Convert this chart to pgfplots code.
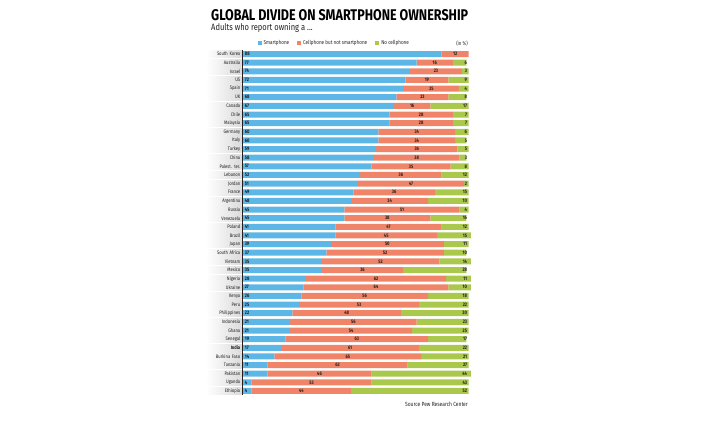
\documentclass[border=0pt]{standalone}
\usepackage{pgfplots}
\pgfplotsset{compat=1.18}
\usepackage{pgfplotstable}
\usepackage{fontspec}
\setmainfont{Fira Sans}
\newfontfamily\cond{Fira Sans}[FakeStretch=0.82]

\definecolor{cblue}{HTML}{5DB7E6}
\definecolor{cred}{HTML}{F08468}
\definecolor{cgreen}{HTML}{A9C84C}
\definecolor{ctext}{HTML}{231F20}

% s = smartphone, c = cellphone but not smartphone, n = no cellphone (as printed),
% nd = green bar length as drawn in the original
\pgfplotstableread[col sep=comma]{
idx,s,c,n,nd
0,88,12,,0
1,77,16,6,6
2,74,23,3,3
3,72,19,9,9
4,71,25,4,4
5,68,23,8,8
6,67,16,17,17
7,65,28,7,7
8,65,28,7,7
9,60,34,6,6
10,60,34,5,5
11,59,36,5,5
12,58,38,3,3
13,57,35,8,8
14,52,36,12,12
15,51,47,2,2
16,49,36,15,15
17,48,34,10,18
18,45,51,4,4
19,45,38,16,16
20,41,47,12,12
21,41,45,15,15
22,39,50,11,11
23,37,52,10,10
24,35,52,14,14
25,35,36,28,28
26,28,62,11,11
27,27,64,10,10
28,26,56,18,18
29,25,53,22,22
30,22,48,30,30
31,21,56,23,23
32,21,54,25,25
33,19,63,17,17
34,17,61,22,22
35,14,65,21,21
36,11,62,27,27
37,11,46,44,44
38,4,53,43,43
39,4,44,52,52
}\data

\begin{document}
\begin{tikzpicture}[x=1pt,y=1pt]
\useasboundingbox (0pt,0pt) rectangle (707pt,423pt);

\node[anchor=south west, inner sep=0pt] at (211pt,402pt)
  {\resizebox{257pt}{11pt}{\cond\bfseries GLOBAL DIVIDE ON SMARTPHONE OWNERSHIP}};
\node[anchor=base west, inner sep=0pt, text=ctext] at (211pt,392.3pt)
  {\cond\fontsize{9.2}{10}\selectfont Adults who report owning a ...};
\node[anchor=base east, inner sep=0pt, text=ctext] at (468pt,377pt)
  {\cond\fontsize{5.4}{6}\selectfont (in \%)};
\node[anchor=base east, inner sep=0pt, text=ctext] at (468pt,16pt)
  {\cond\fontsize{6}{7}\selectfont Source Pew Research Center};

\begin{axis}[
    at={(242.7pt,373.3pt)}, anchor=north west,
    scale only axis, width=226pt, height=345.6pt,
    xmin=0, xmax=100, ymin=-0.5, ymax=39.5,
    y dir=reverse,
    xbar stacked, bar width=6pt,
    axis x line=none, axis y line*=left, axis on top,
    axis line style={-, ctext, line width=0.7pt},
    ytick={0,...,39},
    yticklabels={South Korea, Australia, Israel, US, Spain, UK, Canada, Chile,
      Malaysia, Germany, Italy, Turkey, China, Palest. ter., Lebanon, Jordan,
      France, Argentina, Russia, Venezuela, Poland, Brazil, Japan, South Africa,
      Vietnam, Mexico, Nigeria, Ukraine, Kenya, Peru, Philippines, Indonesia,
      Ghana, Senegal, \textbf{India}, Burkina Faso, Tanzania, Pakistan, Uganda,
      Ethiopia},
    major tick length=0pt,
    yticklabel style={font=\cond\fontsize{5}{5}\selectfont, text=ctext,
      text width=33pt, align=right, inner xsep=1.5pt, inner ysep=0pt,
      minimum height=7.2pt, left color=white, right color=black!14,
      anchor=east, xshift=-0.8pt},
    legend style={at={(0.405,1)}, anchor=south, yshift=1.2pt, draw=none,
      fill=none, inner sep=0pt, font=\cond\fontsize{5.6}{6}\selectfont,
      text=ctext, /tikz/every even column/.append style={column sep=6pt}},
    legend columns=-1,
    clip=false,
]
\addplot[fill=cblue, draw=none,
  legend image code/.code={\fill[cblue] (0pt,-2pt) rectangle (4pt,2pt);}]
  table[x=s, y=idx] {\data};
\addlegendentry{Smartphone}
\addplot[fill=cred, draw=none,
  legend image code/.code={\fill[cred] (0pt,-2pt) rectangle (4pt,2pt);}]
  table[x=c, y=idx] {\data};
\addlegendentry{Cellphone but not smartphone}
\addplot[fill=cgreen, draw=none,
  legend image code/.code={\fill[cgreen] (0pt,-2pt) rectangle (4pt,2pt);}]
  table[x=nd, y=idx] {\data};
\addlegendentry{No cellphone}
\end{axis}

% value labels
\begin{axis}[
    at={(242.7pt,373.3pt)}, anchor=north west,
    scale only axis, width=226pt, height=345.6pt,
    xmin=0, xmax=100, ymin=-0.5, ymax=39.5,
    y dir=reverse, hide axis, clip=false,
    nodes near coords, point meta=explicit symbolic,
    every node near coord/.append style={font=\cond\bfseries\fontsize{5}{5}\selectfont,
      text=ctext, inner sep=0pt},
]
\addplot[draw=none, mark=none, nodes near coords style={anchor=west, xshift=2pt}]
  table[x expr=0, y=idx, meta=s] {\data};
\addplot[draw=none, mark=none, nodes near coords style={anchor=center}]
  table[x expr=\thisrow{s}+\thisrow{c}/2, y=idx, meta=c] {\data};
\addplot[draw=none, mark=none, nodes near coords style={anchor=east, xshift=-1.5pt}]
  table[x expr=100, y=idx, meta=n] {\data};
\end{axis}
\end{tikzpicture}
\end{document}
